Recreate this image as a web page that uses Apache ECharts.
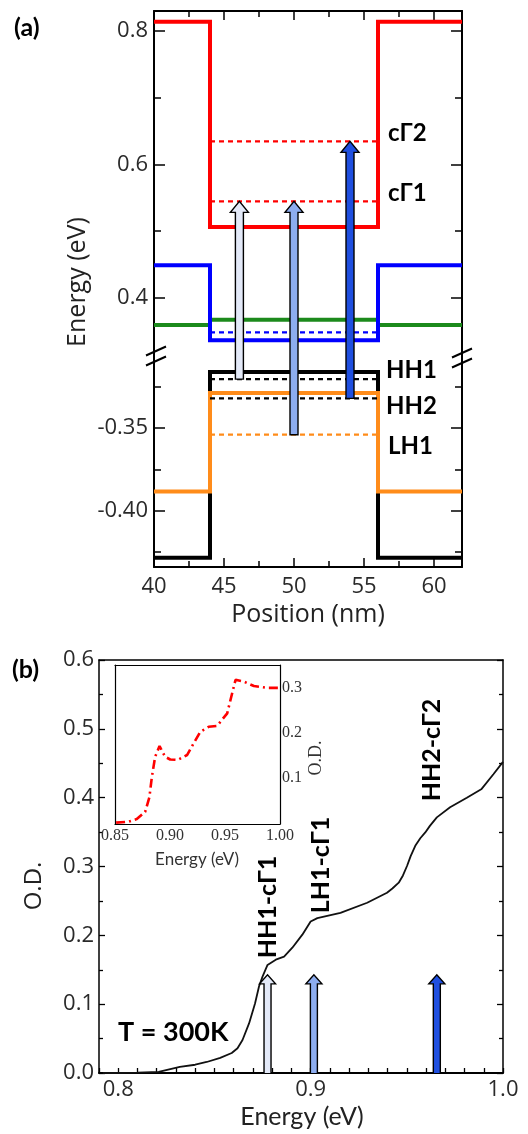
<!DOCTYPE html>
<html><head><meta charset="utf-8">
<script src="https://cdn.jsdelivr.net/npm/echarts@6/dist/echarts.min.js"></script>
<style>html,body{margin:0;padding:0;background:#fff}#c{width:528px;height:1134px}</style>
</head><body><div id="c"></div>
<script>
// ---------- Panel (a): band profile ----------
const posRange = [40, 62];
const wellEdges = [44, 56];
const bandNames = ['cΓ', 'cL', 'cX', 'HH', 'LH'];
const barrierE = [0.814, 0.4485, 0.359, -0.4284, -0.3883];
const wellE    = [0.506, 0.336, 0.367, -0.316, -0.3287];
const levelNames = ['cΓ2', 'cΓ1', 'cL1', 'HH1', 'HH2', 'LH1'];
const levelE     = [0.6345, 0.5445, 0.348, -0.3204, -0.332, -0.354];
const transPos  = [46.1, 50, 54];
const transFrom = [-0.3204, -0.354, -0.332];
const transTo   = [0.5445, 0.5445, 0.6345];
const upperRange = [0.311, 0.83];
const lowerRange = [-0.434, -0.307];
const upperTicks = [0.4, 0.6, 0.8];
const upperMinor = [0.5, 0.7];
const lowerTicks = [-0.40, -0.35];
const lowerMinor = [-0.425, -0.375, -0.325];
const posTicks = [40, 45, 50, 55, 60];
const posMinor = [42.5, 47.5, 52.5, 57.5];

// ---------- Panel (b): absorption ----------
const odEnergy = [0.792, 0.80, 0.81, 0.821, 0.832, 0.840, 0.846, 0.853, 0.859, 0.862, 0.8646, 0.868, 0.8711, 0.8732, 0.875, 0.8776, 0.8819, 0.8862, 0.8905, 0.8957, 0.900, 0.9035, 0.9155, 0.9294, 0.9397, 0.9425, 0.9458, 0.948, 0.9501, 0.952, 0.9544, 0.957, 0.9596, 0.962, 0.9656, 0.9725, 0.9812, 0.9889, 0.995, 1.0];
const odValue  = [0.0, 0.0, 0.0005, 0.0015, 0.009, 0.012, 0.016, 0.022, 0.029, 0.036, 0.048, 0.072, 0.101, 0.126, 0.140, 0.157, 0.1646, 0.169, 0.182, 0.201, 0.220, 0.225, 0.2327, 0.2473, 0.2619, 0.268, 0.2765, 0.287, 0.3007, 0.315, 0.33, 0.341, 0.3495, 0.359, 0.3714, 0.386, 0.400, 0.4127, 0.434, 0.452];
const odXRange = [0.79, 1.0];
const odYRange = [0, 0.6];
const odXLabels = [0.8, 0.9, 1.0];
const transEnergy = [0.8776, 0.9017, 0.9656];
const transHeight = 0.1426;
const transNames = ['HH1-cΓ1', 'LH1-cΓ1', 'HH2-cΓ2'];

// inset
const insEnergy = [0.851, 0.862, 0.8698, 0.8774, 0.8813, 0.8835, 0.8865, 0.8905, 0.8956, 0.9002, 0.9069, 0.9155, 0.9215, 0.9276, 0.9352, 0.9428, 0.952, 0.9565, 0.9596, 0.9671, 0.9763, 0.9885, 1.0];
const insValue  = [0.0, 0.002, 0.008, 0.024, 0.057, 0.102, 0.147, 0.171, 0.147, 0.141, 0.140, 0.151, 0.177, 0.203, 0.214, 0.216, 0.244, 0.289, 0.319, 0.315, 0.305, 0.301, 0.301];
const insXRange = [0.85, 1.0];
const insYRange = [-0.003, 0.352];
const insXLabels = [0.85, 0.90, 0.95, 1.00];
const insYLabels = [0.1, 0.2, 0.3];

// ---------- styles ----------
const bandColors = ['#ff0000', '#0000ff', '#1c8a1c', '#000000', '#ff8c1a'];
const levelColors = ['#ff0000', '#ff0000', '#0000ff', '#000000', '#000000', '#ff8c1a'];
const arrowColors = ['#e3e9f8', '#8dadf0', '#1f4fe0'];
const SANS = '"Open Sans", sans-serif';
const BOLD = 'Lato, "Open Sans", sans-serif';
const NARROW = '"Liberation Sans Narrow", Lato, sans-serif';
const SERIF = '"Liberation Serif", "DejaVu Serif", serif';

function ax(o) {
  return {
    gridIndex: o.g, type: 'value', position: o.pos, min: o.min, max: o.max,
    interval: o.interval,
    axisLine: {show: !!o.line, onZero: false, lineStyle: {color: '#000', width: o.lw || 2}},
    axisTick: o.ticks ? {show: true, inside: true, length: o.len || 8, customValues: o.ticks, lineStyle: {color: '#000', width: 1.5}}
                      : (o.autoTicks ? {show: true, inside: true, length: o.len || 5, lineStyle: {color: '#000', width: 1.3}} : {show: false}),
    minorTick: o.minor ? {show: true, splitNumber: 2, length: o.minorLen || 4, lineStyle: {color: '#000', width: 1.3}} : {show: false},
    axisLabel: o.labels ? {show: true, customValues: o.labels === true ? undefined : o.labels, formatter: o.fmt, margin: o.margin || 6,
                           color: o.color || '#2a2a2a', fontFamily: o.font || SANS, fontSize: o.fs || 21,
                           showMinLabel: true, showMaxLabel: true} : {show: false},
    splitLine: {show: false}
  };
}

const fmt1 = v => v.toFixed(1);
const fmt2 = v => v.toFixed(2);

const xAxes = [
  ax({g: 0, pos: 'top', min: posRange[0], max: posRange[1], line: true, ticks: posTicks.slice(1), len: 9}),
  ax({g: 0, pos: 'top', min: posRange[0], max: posRange[1], ticks: posMinor, len: 6}),
  ax({g: 1, pos: 'bottom', min: posRange[0], max: posRange[1], line: true, ticks: posTicks.slice(1), len: 9, labels: posTicks, fmt: v => String(v), margin: 9, fs: 22}),
  ax({g: 1, pos: 'bottom', min: posRange[0], max: posRange[1], ticks: posMinor, len: 6}),
  ax({g: 2, pos: 'bottom', min: odXRange[0], max: odXRange[1], interval: 0.01, line: true, autoTicks: true, len: 5, labels: odXLabels, fmt: fmt1, margin: 6, fs: 22}),
  ax({g: 2, pos: 'top', min: odXRange[0], max: odXRange[1], line: true, lw: 1.5}),
  ax({g: 3, pos: 'bottom', min: insXRange[0], max: insXRange[1], line: true, lw: 1.2, labels: insXLabels, fmt: fmt2, margin: 4, fs: 16, font: SERIF, color: '#333'}),
  ax({g: 3, pos: 'top', min: insXRange[0], max: insXRange[1], line: true, lw: 1.2})
];
const yAxes = [
  ax({g: 0, pos: 'left', min: upperRange[0], max: upperRange[1], line: true, ticks: upperTicks, len: 11, labels: upperTicks, fmt: fmt1, margin: 6, fs: 22}),
  ax({g: 0, pos: 'left', min: upperRange[0], max: upperRange[1], ticks: upperMinor, len: 7}),
  ax({g: 0, pos: 'right', min: upperRange[0], max: upperRange[1], line: true, ticks: upperTicks, len: 11}),
  ax({g: 0, pos: 'right', min: upperRange[0], max: upperRange[1], ticks: upperMinor, len: 7}),
  ax({g: 1, pos: 'left', min: lowerRange[0], max: lowerRange[1], line: true, ticks: lowerTicks, len: 11, labels: lowerTicks, fmt: fmt2, margin: 6, fs: 22}),
  ax({g: 1, pos: 'left', min: lowerRange[0], max: lowerRange[1], ticks: lowerMinor, len: 7}),
  ax({g: 1, pos: 'right', min: lowerRange[0], max: lowerRange[1], line: true, ticks: lowerTicks, len: 11}),
  ax({g: 1, pos: 'right', min: lowerRange[0], max: lowerRange[1], ticks: lowerMinor, len: 7}),
  ax({g: 2, pos: 'left', min: odYRange[0], max: odYRange[1], interval: 0.1, line: true, lw: 1.5, autoTicks: true, len: 6, minor: true, labels: true, fmt: fmt1, margin: 5, fs: 22}),
  ax({g: 2, pos: 'right', min: odYRange[0], max: odYRange[1], interval: 0.1, line: true, lw: 1.5, autoTicks: true, len: 6, minor: true}),
  ax({g: 3, pos: 'right', min: insYRange[0], max: insYRange[1], line: true, lw: 1.2, labels: insYLabels, fmt: fmt1, margin: 2, fs: 16, font: SERIF, color: '#333'}),
  ax({g: 3, pos: 'left', min: insYRange[0], max: insYRange[1], line: true, lw: 1.2})
];

function gridFor(e) { return e >= 0 ? {xAxisIndex: 0, yAxisIndex: 0} : {xAxisIndex: 2, yAxisIndex: 4}; }

const series = [];
// band edges (draw order: green, blue, red, black, orange)
[2, 1, 0, 3, 4].forEach(i => {
  const pts = [[posRange[0], barrierE[i]], [wellEdges[0], barrierE[i]], [wellEdges[0], wellE[i]],
               [wellEdges[1], wellE[i]], [wellEdges[1], barrierE[i]], [posRange[1], barrierE[i]]];
  series.push(Object.assign({type: 'line', name: bandNames[i], data: pts, symbol: 'none', silent: true,
    lineStyle: {color: bandColors[i], width: 4, join: 'miter', cap: 'butt'}}, gridFor(barrierE[i])));
});
// confined levels
levelE.forEach((e, i) => {
  series.push(Object.assign({type: 'line', name: levelNames[i], data: [[wellEdges[0], e], [wellEdges[1], e]], symbol: 'none', silent: true,
    lineStyle: {color: levelColors[i], width: 2.2, type: [5, 4]}}, gridFor(e)));
});

function arrowShape(cx, ty, by, sw, hw, hh, ci, withHead) {
  let pts;
  if (withHead) {
    const hb = ty + hh;
    pts = [[cx - sw, by], [cx - sw, hb], [cx - hw, hb], [cx, ty], [cx + hw, hb], [cx + sw, hb], [cx + sw, by]];
  } else {
    pts = [[cx - sw, ty], [cx - sw, by], [cx + sw, by], [cx + sw, ty]];
  }
  return {type: 'group', children: [
    {type: 'polygon', shape: {points: pts}, style: {fill: arrowColors[ci], stroke: null}},
    {type: 'polyline', shape: {points: pts}, style: {stroke: '#000', lineWidth: 1.4, fill: null}}
  ]};
}

const transData = transPos.map((x, i) => [x, transFrom[i], transTo[i], i]);
// upper part of transition arrows
series.push({type: 'custom', xAxisIndex: 0, yAxisIndex: 0, data: transData, silent: true, z: 5,
  renderItem: (params, api) => {
    const cs = params.coordSys;
    const x = api.value(0), from = api.value(1), to = api.value(2), ci = api.value(3);
    const tip = api.coord([x, to]);
    const by = from >= upperRange[0] ? api.coord([x, from])[1] : cs.y + cs.height;
    return arrowShape(tip[0], tip[1], by, 4, 9, 11, ci, true);
  }});
// lower part of transition arrows
series.push({type: 'custom', xAxisIndex: 2, yAxisIndex: 4, data: transData, silent: true, z: 5,
  renderItem: (params, api) => {
    const cs = params.coordSys;
    const x = api.value(0), from = api.value(1), to = api.value(2), ci = api.value(3);
    const p = api.coord([x, from]);
    const ty = to <= lowerRange[1] ? api.coord([x, to])[1] : cs.y;
    return arrowShape(p[0], ty, p[1], 4, 9, 11, ci, false);
  }});

// panel (b) curve
series.push({type: 'line', xAxisIndex: 4, yAxisIndex: 8, data: odEnergy.map((e, i) => [e, odValue[i]]),
  symbol: 'none', silent: true, lineStyle: {color: '#111', width: 1.8}});
// panel (b) arrows
series.push({type: 'custom', xAxisIndex: 4, yAxisIndex: 8, data: transEnergy.map((e, i) => [e, 0, transHeight, i]), silent: true, z: 5,
  renderItem: (params, api) => {
    const x = api.value(0);
    const b = api.coord([x, api.value(1)]);
    const t = api.coord([x, api.value(2)]);
    return arrowShape(t[0], t[1], b[1], 3.5, 8, 9, api.value(3), true);
  }});
// inset
series.push({type: 'line', xAxisIndex: 6, yAxisIndex: 10, data: insEnergy.map((e, i) => [e, insValue[i]]),
  symbol: 'none', silent: true, lineStyle: {color: '#ff0000', width: 2.6, type: [9, 4, 2, 4]}});

function txt(s, x, y, font, opts) {
  opts = opts || {};
  return {type: 'text', x: x, y: y, rotation: opts.rot || 0, z: 10, silent: true,
    style: {text: s, font: font, fill: opts.fill || '#000', align: opts.align || 'left', verticalAlign: 'middle'}};
}
function slash(x, y) {
  return {type: 'line', silent: true, z: 10, shape: {x1: x - 10, y1: y + 4.5, x2: x + 10, y2: y - 4.5}, style: {stroke: '#000', lineWidth: 2}};
}

const graphics = [
  txt('(a)', 14, 28, 'bold 25px ' + BOLD),
  txt('(b)', 12, 670, 'bold 25px ' + BOLD),
  txt(levelNames[0], 388, 133, 'bold 24px ' + BOLD),
  txt(levelNames[1], 388, 193, 'bold 24px ' + BOLD),
  txt(levelNames[3], 386, 370, 'bold 24px ' + BOLD),
  txt(levelNames[4], 386, 406, 'bold 24px ' + BOLD),
  txt(levelNames[5], 388, 446, 'bold 24px ' + BOLD),
  txt('Energy (eV)', 78, 282, '25px ' + SANS, {rot: Math.PI / 2, align: 'center', fill: '#222'}),
  txt('Position (nm)', 308, 615, '25px ' + SANS, {align: 'center', fill: '#222'}),
  txt('O.D.', 34, 886, '24px ' + SANS, {rot: Math.PI / 2, align: 'center', fill: '#222'}),
  txt('Energy (eV)', 302, 1117, '25px ' + NARROW, {align: 'center', fill: '#222'}),
  txt('Energy (eV)', 197, 860, '17px ' + NARROW, {align: 'center', fill: '#333'}),
  txt('O.D.', 316, 758, '18px ' + SERIF, {rot: Math.PI / 2, align: 'center', fill: '#333'}),
  txt('T = 300K', 118, 1032, 'bold 27px ' + BOLD),
  txt(transNames[0], 268, 907, 'bold 25px ' + BOLD, {rot: Math.PI / 2, align: 'center'}),
  txt(transNames[1], 321, 865, 'bold 25px ' + BOLD, {rot: Math.PI / 2, align: 'center'}),
  txt(transNames[2], 432, 750, 'bold 25px ' + BOLD, {rot: Math.PI / 2, align: 'center'}),
  slash(156, 351), slash(156, 361), slash(462, 353), slash(462, 363)
];

const chart = echarts.init(document.getElementById('c'), null, {renderer: 'canvas'});
chart.setOption({
  animation: false,
  backgroundColor: '#fff',
  grid: [
    {left: 154, top: 11, width: 308, height: 346},
    {left: 154, top: 357, width: 308, height: 210},
    {left: 99, top: 660, width: 404, height: 413},
    {left: 115, top: 665, width: 165, height: 159, show: true, backgroundColor: '#fff', borderWidth: 0}
  ],
  xAxis: xAxes,
  yAxis: yAxes,
  series: series,
  graphic: graphics
});
</script>
</body></html>
